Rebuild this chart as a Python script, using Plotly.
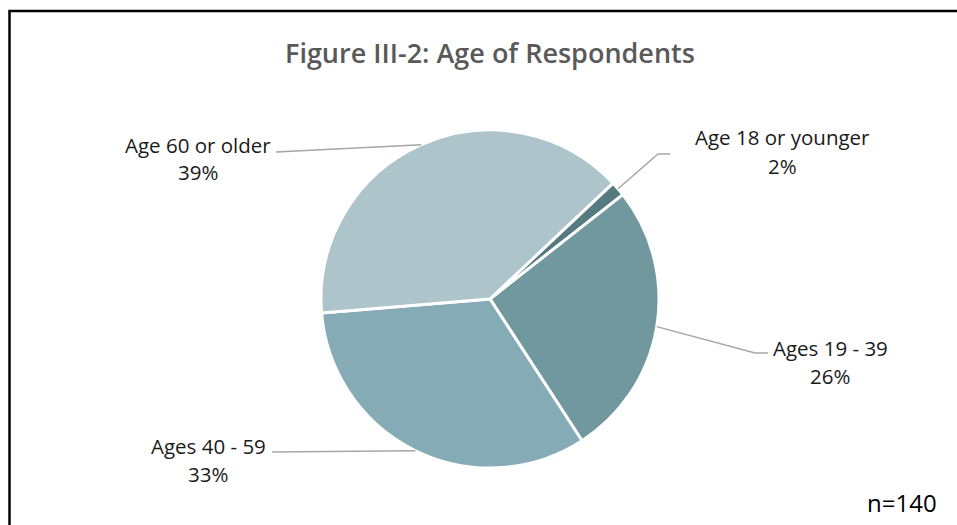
import math
import plotly.graph_objects as go

# ---- data ----
categories = ["Age 18 or younger", "Ages 19 - 39", "Ages 40 - 59", "Age 60 or older"]
counts = [2, 37, 46, 55]          # n = 140
pct_labels = ["2%", "26%", "33%", "39%"]
colors = ["#557A80", "#72989F", "#85ACB6", "#ADC4CA"]

# ---- layout geometry (pixels) ----
W, H = 957, 525
CX, CY, R = 490, 299, 169
ROTATION = 46.7
name_pos = [(782, 137), (830, 348), (208, 446), (198, 145)]
pct_pos = [(782, 166), (830, 376), (208, 474), (198, 172)]
leader_elbow = [(658, 154), (755, 353), (272, 452), (276, 152)]
leader_end = [(670, 154), (768, 353), (272, 452), (276, 152)]


def px(x):
    return x / W


def py(y):
    return 1 - y / H


fig = go.Figure(go.Pie(
    labels=categories,
    values=counts,
    sort=False,
    direction="clockwise",
    rotation=ROTATION,
    marker=dict(colors=colors, line=dict(color="white", width=3)),
    textinfo="none",
    hoverinfo="label+percent",
    domain=dict(x=[px(CX - R), px(CX + R)], y=[py(CY + R), py(CY - R)]),
    showlegend=False,
))

shapes = []
annotations = []
total = sum(counts)
cum = 0
for i, v in enumerate(counts):
    mid = ROTATION + 360 * (cum + v / 2) / total
    cum += v
    a = math.radians(mid)
    ex, ey = CX + R * math.sin(a), CY - R * math.cos(a)
    (bx, by), (tx, ty) = leader_elbow[i], leader_end[i]
    shapes.append(dict(
        type="path", xref="paper", yref="paper",
        path=f"M {px(ex)} {py(ey)} L {px(bx)} {py(by)} L {px(tx)} {py(ty)}",
        line=dict(color="#A6A6A6", width=1.5),
    ))
    for (x, y), t in ((name_pos[i], categories[i]), (pct_pos[i], pct_labels[i])):
        annotations.append(dict(
            x=px(x), y=py(y), xref="paper", yref="paper", text=t, showarrow=False,
            xanchor="center", yanchor="middle",
            font=dict(family="Open Sans", size=20.5, color="#1A1A1A"),
        ))

annotations.append(dict(
    x=px(490), y=py(52), xref="paper", yref="paper",
    text="Figure III-2: Age of Respondents", showarrow=False,
    xanchor="center", yanchor="middle",
    font=dict(family="Open Sans", size=27, color="#595959", weight=600),
))
annotations.append(dict(
    x=px(902), y=py(502), xref="paper", yref="paper", text="n=140", showarrow=False,
    xanchor="center", yanchor="middle",
    font=dict(family="Open Sans", size=24, color="#000000"),
))

# chart frame (top and left edges visible)
shapes.append(dict(
    type="path", xref="paper", yref="paper",
    path=f"M {px(9.5)} {py(530)} L {px(9.5)} {py(11)} L {px(960)} {py(11)}",
    line=dict(color="#000000", width=2.5),
))

fig.update_layout(
    width=W, height=H,
    margin=dict(l=0, r=0, t=0, b=0),
    paper_bgcolor="white", plot_bgcolor="white",
    shapes=shapes, annotations=annotations,
)

fig.write_html("out.html")
